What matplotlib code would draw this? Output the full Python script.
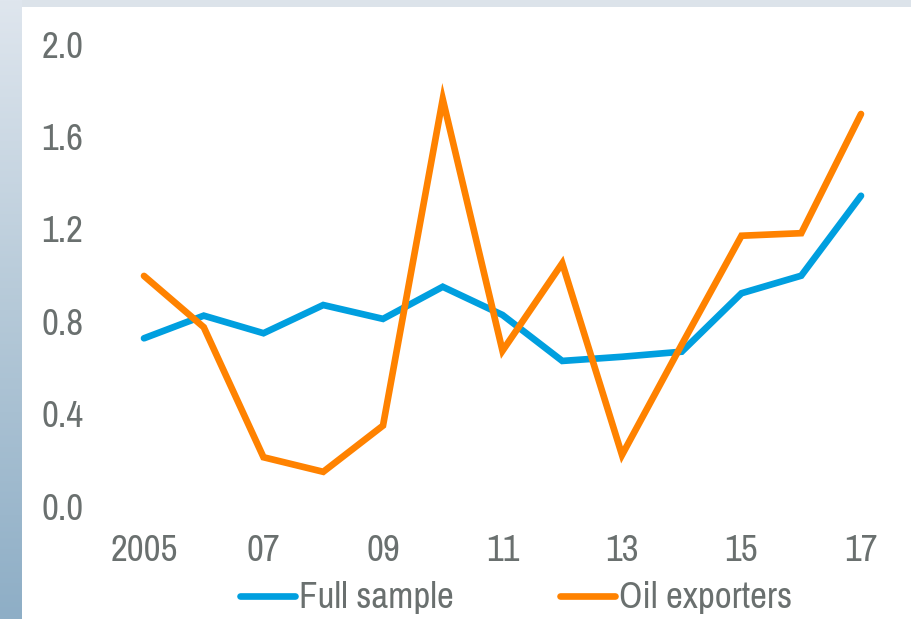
import numpy as np
import matplotlib
matplotlib.use("Agg")
import matplotlib.pyplot as plt
from matplotlib.colors import LinearSegmentedColormap
from matplotlib.patches import Rectangle

plt.rcParams['font.family'] = ['Liberation Sans Narrow', 'Archivo Narrow', 'DejaVu Sans']

years = list(range(2005, 2018))
full_sample = [0.726, 0.824, 0.748, 0.870, 0.810, 0.949, 0.827, 0.628, 0.646, 0.668, 0.921, 0.997, 1.343]
oil_exporters = [0.996, 0.774, 0.211, 0.148, 0.348, 1.761, 0.672, 1.051, 0.221, 0.699, 1.170, 1.181, 1.697]
x_ticks = [2005, 2007, 2009, 2011, 2013, 2015, 2017]
x_tick_labels = ['2005', '07', '09', '11', '13', '15', '17']
y_ticks = [0.0, 0.4, 0.8, 1.2, 1.6, 2.0]
y_tick_labels = ['0.0', '0.4', '0.8', '1.2', '1.6', '2.0']

BLUE = '#009fdf'
ORANGE = '#ff8200'
TEXT = '#6a706f'
FS = 26.5

W, H = 912, 619
fig = plt.figure(figsize=(W / 100, H / 100), dpi=100)
fig.patch.set_facecolor('white')

# background decoration
bg = fig.add_axes([0, 0, 1, 1], zorder=-10)
bg.axis('off')
cmap = LinearSegmentedColormap.from_list('strip', ['#dfe6ee', '#b5c9d8', '#8eaec6'])
grad = np.linspace(0, 1, 256).reshape(-1, 1)
bg.imshow(grad, cmap=cmap, extent=[0, 22, H, 0], aspect='auto')
bg.add_patch(Rectangle((22, 0), W - 22, 7, color='#dce3ea', lw=0))
bg.set_xlim(0, W)
bg.set_ylim(H, 0)

# main axes
x0, x1 = 2004.4, 2017.6
pxyr = (861 - 144) / 12
left_px = 144 - (2005 - x0) * pxyr
right_px = 861 + (x1 - 2017) * pxyr
top_px, bot_px = 44, 506
ax = fig.add_axes([left_px / W, 1 - bot_px / H, (right_px - left_px) / W, (bot_px - top_px) / H])
ax.set_facecolor('none')
ax.plot(years, full_sample, color=BLUE, lw=4.8, solid_capstyle='round', solid_joinstyle='miter', label='Full sample', clip_on=False)
ax.plot(years, oil_exporters, color=ORANGE, lw=4.8, solid_capstyle='round', solid_joinstyle='miter', label='Oil exporters', clip_on=False)
ax.set_xlim(x0, x1)
ax.set_ylim(0, 2.0)
ax.set_xticks(x_ticks)
ax.set_xticklabels(x_tick_labels)
ax.set_yticks(y_ticks)
ax.set_yticklabels(y_tick_labels)
for s in ax.spines.values():
    s.set_visible(False)
ax.tick_params(axis='both', length=0, labelsize=FS, labelcolor=TEXT)
ax.tick_params(axis='y', pad=18)
ax.tick_params(axis='x', pad=20)

leg = fig.legend(loc='center', bbox_to_anchor=(516 / W, 1 - 598 / H), ncol=2, frameon=False,
                 fontsize=FS, handlelength=1.5, handletextpad=0.1, columnspacing=2.9,
                 borderpad=0, borderaxespad=0)
for t in leg.get_texts():
    t.set_color(TEXT)

fig.savefig('out.png', dpi=100, facecolor='white')
